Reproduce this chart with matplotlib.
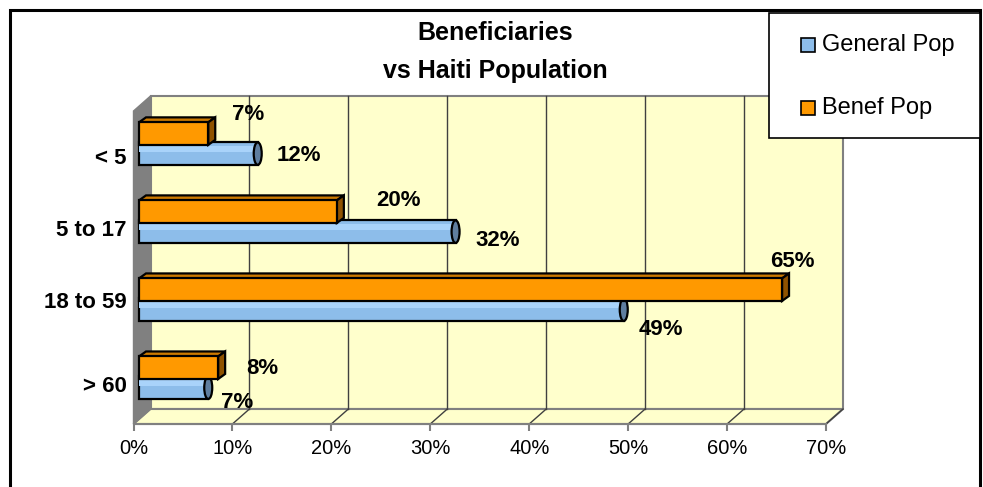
import matplotlib.pyplot as plt
from matplotlib.patches import Polygon, Rectangle, Ellipse
import numpy as np

plt.rcParams['font.family'] = ['Liberation Sans', 'DejaVu Sans']

# data
categories = ['< 5', '5 to 17', '18 to 59', '> 60']
general_pop = [0.12, 0.32, 0.49, 0.07]
benef_pop = [0.07, 0.20, 0.65, 0.08]
series_names = ['General Pop', 'Benef Pop']
title = 'Beneficiaries\nvs Haiti Population'

# label offsets in pixels (dx, dy) relative to bar end / bar centre
benef_lab_off = [(40, -19), (62, -11), (10, -28), (44, 1)]
gen_lab_off = [(41, 2), (42, 9), (37, 20), (29, 15)]
# category label nudges (in category units)
cat_nudge = [0.16, 0.08, 0.0, 0.08]

W, H = 983, 487
fig = plt.figure(figsize=(W / 100, H / 100), dpi=100)

# front plane of the 3d box in pixels
x0, x1 = 133.5, 826.0
ybot, ytop = 424.0, 111.0
xmax = 0.70
ylo, yhi = 3.593, -0.418
ax = fig.add_axes([x0 / W, (H - ybot) / H, (x1 - x0) / W, (ybot - ytop) / H])
ax.set_xlim(0, xmax)
ax.set_ylim(ylo, yhi)
ax.patch.set_visible(False)

pxx = (x1 - x0) / xmax          # pixels per x unit
pxy = (ybot - ytop) / (ylo - yhi)  # pixels per y unit
DX, DY = 17 / pxx, 15 / pxy     # depth of box
grey = '#808080'

# walls and floor
ax.add_patch(Rectangle((DX, yhi - DY), xmax, ylo - yhi, facecolor='#FFFFCC',
                       edgecolor=grey, lw=1.5, clip_on=False, zorder=0))
ax.add_patch(Polygon([(0, ylo), (xmax, ylo), (xmax + DX, ylo - DY), (DX, ylo - DY)],
                     closed=True, facecolor='#FFFFCC', edgecolor=grey, lw=1.5,
                     clip_on=False, zorder=0.5))
ax.add_patch(Polygon([(0, ylo), (DX, ylo - DY), (DX, yhi - DY), (0, yhi)],
                     closed=True, facecolor=grey, edgecolor=grey, lw=1,
                     clip_on=False, zorder=0.5))
for v in np.arange(0.1, xmax - 1e-9, 0.1):
    ax.plot([v + DX, v + DX], [ylo - DY, yhi - DY], color='#404040', lw=1,
            clip_on=False, zorder=0.6)
for v in np.arange(0.1, xmax + 1e-9, 0.1):
    ax.plot([v, v + DX], [ylo, ylo - DY], color='#404040', lw=1,
            clip_on=False, zorder=0.6)

# bars
pos = np.arange(len(categories))
bh = 22.5 / pxy
sep = 10 / pxy
left = 5.5 / pxx
ddx, ddy = 7 / pxx, 5 / pxy
cap_w = 8 / pxx
elw = 1.6

gy = pos + sep
oy = pos - sep
ax.barh(gy, general_pop, height=bh, left=left, color='#8DBDEA',
        edgecolor='black', lw=elw, zorder=2)
ax.barh(gy - bh * 0.2, general_pop, height=bh * 0.25, left=left,
        color='#A9D3FA', lw=0, zorder=2.1)
for y, v in zip(gy, general_pop):
    ax.add_patch(Ellipse((left + v, y), cap_w, bh, facecolor='#5F7E9F',
                         edgecolor='black', lw=elw, zorder=2.2, clip_on=False))

for y, v in zip(oy, benef_pop):
    t, b, e = y - bh / 2, y + bh / 2, left + v
    ax.add_patch(Polygon([(left, t), (left + ddx, t - ddy), (e + ddx, t - ddy), (e, t)],
                         closed=True, facecolor='#CC7A00', edgecolor='black',
                         lw=elw, zorder=3, clip_on=False))
    ax.add_patch(Polygon([(e, t), (e + ddx, t - ddy), (e + ddx, b - ddy), (e, b)],
                         closed=True, facecolor='#8F5200', edgecolor='black',
                         lw=elw, zorder=3, clip_on=False))
ax.barh(oy, benef_pop, height=bh, left=left, color='#FF9900',
        edgecolor='black', lw=elw, zorder=3.1)

# data labels
for y, v, (dx, dy) in zip(oy, benef_pop, benef_lab_off):
    ax.annotate(f'{v:.0%}', (left + v, y), xytext=(dx, -dy), textcoords='offset pixels',
                ha='center', va='center', fontsize=16, fontweight='bold', zorder=5)
for y, v, (dx, dy) in zip(gy, general_pop, gen_lab_off):
    ax.annotate(f'{v:.0%}', (left + v, y), xytext=(dx, -dy), textcoords='offset pixels',
                ha='center', va='center', fontsize=16, fontweight='bold', zorder=5)

# axes
ax.set_xticks(np.arange(0, xmax + 1e-9, 0.1))
ax.set_xticklabels([f'{int(round(t * 100))}%' for t in np.arange(0, xmax + 1e-9, 0.1)],
                   fontsize=14.5)
ax.tick_params(axis='x', length=5, width=1.5, color=grey, pad=6)
ax.set_yticks(pos + np.array(cat_nudge))
ax.set_yticklabels(categories, fontsize=16, fontweight='bold')
ax.tick_params(axis='y', length=0, pad=5)
for s in ['left', 'top', 'right']:
    ax.spines[s].set_visible(False)
ax.spines['bottom'].set_color(grey)
ax.spines['bottom'].set_linewidth(1.5)

# title
fig.text(495 / W, 1 - 52 / H, title, ha='center', va='center', fontsize=18,
         fontweight='bold', linespacing=1.7)

# outer border
fig.patches.append(Rectangle((10 / W, -0.05), 970 / W, 1.05 - 9.5 / H, transform=fig.transFigure,
                             fill=False, edgecolor='black', lw=2.2))

# legend
fig.patches.append(Rectangle((769 / W, 1 - 138 / H), 211 / W, 125 / H, transform=fig.transFigure,
                             facecolor='white', edgecolor='black', lw=1.2, zorder=4))
leg_colors = ['#8DBDEA', '#FF9900']
for name, c, yc in zip(series_names, leg_colors, [45, 108]):
    fig.patches.append(Rectangle((801 / W, 1 - (yc + 7) / H), 14 / W, 14 / H,
                                 transform=fig.transFigure, facecolor=c,
                                 edgecolor='black', lw=1.2, zorder=5))
    fig.text(822 / W, 1 - yc / H, name, ha='left', va='center', fontsize=17, zorder=6)

fig.savefig('out.png', dpi=100)
